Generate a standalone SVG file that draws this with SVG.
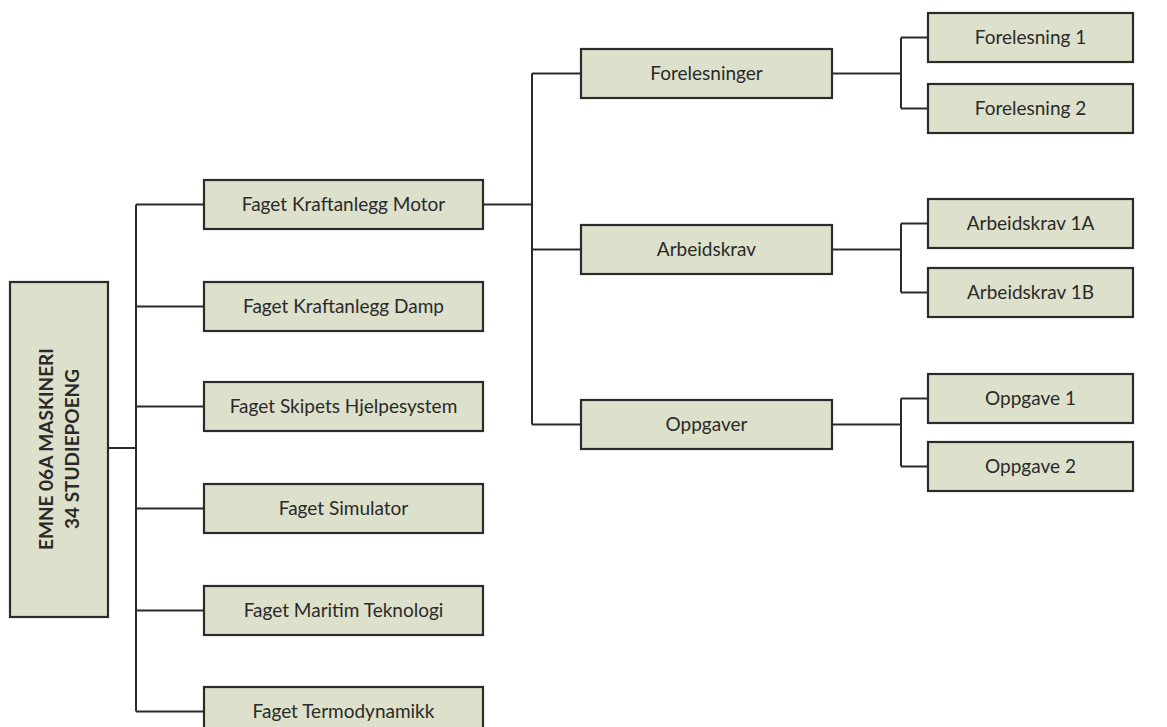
<svg xmlns="http://www.w3.org/2000/svg" width="1167" height="727" viewBox="0 0 1167 727">
<style>
.box{fill:#dde0ca;stroke:#2b2b2b;stroke-width:2.2}
.t{font-family:Lato,"Open Sans","Liberation Sans",sans-serif;font-size:19px;fill:#2a2a2a;text-anchor:middle}
.tb{font-family:Lato,"Open Sans","Liberation Sans",sans-serif;font-size:19px;font-weight:bold;fill:#2a2a2a;text-anchor:middle}
.c{fill:none;stroke:#2b2b2b;stroke-width:2}
</style>
<rect width="1167" height="727" fill="#ffffff"/>
<g id="connectors">
<path class="c" d="M108,448H136M136,204.5V711.5M136,204.5H204M136,306.5H204M136,406.5H204M136,508.5H204M136,610.5H204M136,711.5H204"/>
<path class="c" d="M483,204.5H532M532,73.5V424.5M532,73.5H581M532,249.5H581M532,424.5H581"/>
<path class="c" d="M832,73.5H901M901,37.5V108.5M901,37.5H928M901,108.5H928"/>
<path class="c" d="M832,249.5H901M901,223.5V292.5M901,223.5H928M901,292.5H928"/>
<path class="c" d="M832,424.5H901M901,398.5V466.5M901,398.5H928M901,466.5H928"/>
</g>
<g id="root">
<rect class="box" x="10" y="282" width="98" height="335"/>
<g transform="translate(59,449) rotate(-90)">
<text class="tb" x="0" y="-6">EMNE 06A MASKINERI</text>
<text class="tb" x="0" y="20">34 STUDIEPOENG</text>
</g>
</g>
<g id="motor"><rect class="box" x="204" y="180" width="279" height="49"/><text class="t" x="343.5" y="211">Faget Kraftanlegg Motor</text></g>
<g id="damp"><rect class="box" x="204" y="282" width="279" height="49"/><text class="t" x="343.5" y="313">Faget Kraftanlegg Damp</text></g>
<g id="skipets"><rect class="box" x="204" y="382" width="279" height="49"/><text class="t" x="343.5" y="413">Faget Skipets Hjelpesystem</text></g>
<g id="simulator"><rect class="box" x="204" y="484" width="279" height="49"/><text class="t" x="343.5" y="515">Faget Simulator</text></g>
<g id="maritim"><rect class="box" x="204" y="586" width="279" height="49"/><text class="t" x="343.5" y="617">Faget Maritim Teknologi</text></g>
<g id="termo"><rect class="box" x="204" y="687" width="279" height="49"/><text class="t" x="343.5" y="718">Faget Termodynamikk</text></g>
<g id="forelesninger"><rect class="box" x="581" y="49" width="251" height="49"/><text class="t" x="706.5" y="80">Forelesninger</text></g>
<g id="arbeidskrav"><rect class="box" x="581" y="225" width="251" height="49"/><text class="t" x="706.5" y="256">Arbeidskrav</text></g>
<g id="oppgaver"><rect class="box" x="581" y="400" width="251" height="49"/><text class="t" x="706.5" y="431">Oppgaver</text></g>
<g id="forelesning1"><rect class="box" x="928" y="13" width="205" height="49"/><text class="t" x="1030.5" y="44">Forelesning 1</text></g>
<g id="forelesning2"><rect class="box" x="928" y="84" width="205" height="49"/><text class="t" x="1030.5" y="115">Forelesning 2</text></g>
<g id="arbeidskrav1a"><rect class="box" x="928" y="199" width="205" height="49"/><text class="t" x="1030.5" y="230">Arbeidskrav 1A</text></g>
<g id="arbeidskrav1b"><rect class="box" x="928" y="268" width="205" height="49"/><text class="t" x="1030.5" y="299">Arbeidskrav 1B</text></g>
<g id="oppgave1"><rect class="box" x="928" y="374" width="205" height="49"/><text class="t" x="1030.5" y="405">Oppgave 1</text></g>
<g id="oppgave2"><rect class="box" x="928" y="442" width="205" height="49"/><text class="t" x="1030.5" y="473">Oppgave 2</text></g>
</svg>
